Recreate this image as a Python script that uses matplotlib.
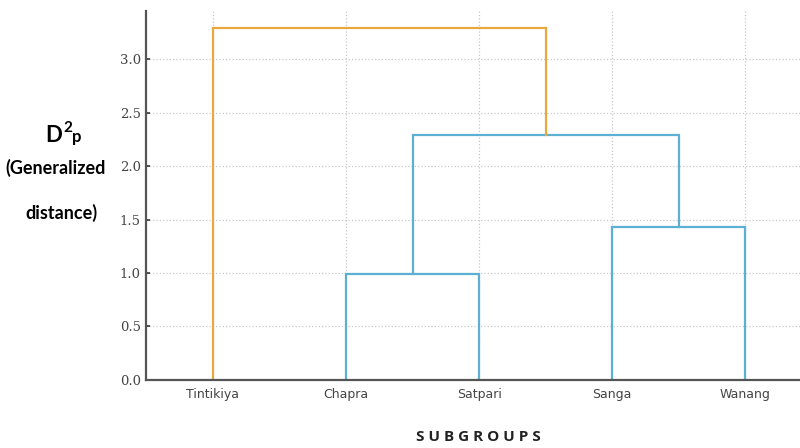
import matplotlib
matplotlib.use("Agg")
import matplotlib.pyplot as plt

# leaves in dendrogram order
subgroups = ['Tintikiya', 'Chapra', 'Satpari', 'Sanga', 'Wanang']

# merges: (left member, right member, distance); members >= 5 are earlier merges
merge_a = [1, 3, 5, 0]
merge_b = [2, 4, 6, 7]
merge_dist = [0.99, 1.43, 2.29, 3.29]
merge_color = ['#5bb0d3', '#5bb0d3', '#5bb0d3', '#e8a83e']

fig = plt.figure(figsize=(8, 4.48), dpi=100)
ax = fig.add_axes([0.183, 0.152, 0.817, 0.823])

# positions of leaves like scipy (5, 15, 25, ...)
xpos = {i: 5 + 10 * i for i in range(len(subgroups))}
ypos = {i: 0.0 for i in range(len(subgroups))}

n = len(subgroups)
for k in range(len(merge_dist)):
    a, b, d = merge_a[k], merge_b[k], merge_dist[k]
    xa, xb = xpos[a], xpos[b]
    ax.plot([xa, xa, xb, xb], [ypos[a], d, d, ypos[b]],
            color=merge_color[k], lw=1.6, solid_joinstyle='miter')
    xpos[n + k] = (xa + xb) / 2
    ypos[n + k] = d

ax.set_xlim(0, 49.1)
ax.set_ylim(0, 3.45)
ax.set_xticks([5 + 10 * i for i in range(n)])
ax.set_xticklabels(subgroups, fontsize=9, color='#444444', family='DejaVu Sans')
ax.set_yticks([0, 0.5, 1.0, 1.5, 2.0, 2.5, 3.0])
ax.set_yticklabels(['0.0', '0.5', '1.0', '1.5', '2.0', '2.5', '3.0'],
                   fontsize=9.5, color='#444444', family='DejaVu Serif')
ax.tick_params(axis='y', direction='in', length=3, width=1.2, color='#333333', pad=4)
ax.tick_params(axis='x', length=0, pad=6)

ax.grid(True, color='#c8c8c8', linestyle=':', linewidth=0.9)
ax.set_axisbelow(True)
for s in ['top', 'right']:
    ax.spines[s].set_visible(False)
for s in ['left', 'bottom']:
    ax.spines[s].set_color('#555555')
    ax.spines[s].set_linewidth(1.6)

# y label pieces: D, superscript 2, then p
fig.text(0.056, 0.683, 'D', fontsize=16, fontweight='bold',
         family='Lato', ha='left', va='baseline')
fig.text(0.079, 0.706, '2', fontsize=11, fontweight='bold',
         family='Lato', ha='left', va='baseline')
fig.text(0.090, 0.683, 'p', fontsize=12, fontweight='bold',
         family='Lato', ha='left', va='baseline')
fig.text(0.070, 0.625, '(Generalized', fontsize=13, fontweight='bold',
         family='Lato', ha='center', va='center')
fig.text(0.077, 0.525, 'distance)', fontsize=13, fontweight='bold',
         family='Lato', ha='center', va='center')

fig.text(0.598, 0.025, 'S U B G R O U P S', fontsize=11, fontweight='bold',
         family='Open Sans', ha='center', va='center', color='#222222')

fig.savefig('out.png', dpi=100)
